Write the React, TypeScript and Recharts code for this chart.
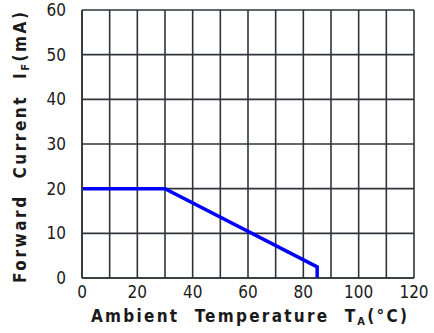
import { LineChart, Line, XAxis, YAxis, CartesianGrid, Label } from "recharts";

// derating curve: ambient temperature (°C) vs max forward current (mA)
const temps = [0, 30, 85, 85];
const currents = [20, 20, 2.5, 0];

const xTicks = [0, 10, 20, 30, 40, 50, 60, 70, 80, 90, 100, 110, 120];
const yTicks = [0, 10, 20, 30, 40, 50, 60];

const data = temps.map((t, i) => ({ t, i: currents[i] }));

const FONT = "'Liberation Sans Narrow', 'DejaVu Sans Condensed', 'Liberation Sans', sans-serif";
const GRID = "#30343a";

function XLabel() {
  return (
    <text
      x={91}
      y={322}
      fontFamily={FONT}
      fontSize={17}
      fontWeight="bold"
      fill="#1a1a1a"
      textLength={316}
      lengthAdjust="spacing"
    >
      {"Ambient\u00a0\u00a0Temperature\u00a0\u00a0T"}
      <tspan fontSize={11} dy={3}>A</tspan>
      <tspan dy={-3}>(°C)</tspan>
    </text>
  );
}

function YLabel() {
  return (
    <text
      x={0}
      y={0}
      transform="translate(26,283) rotate(-90)"
      fontFamily={FONT}
      fontSize={17}
      fontWeight="bold"
      fill="#1a1a1a"
      textLength={271}
      lengthAdjust="spacing"
    >
      {"Forward\u00a0\u00a0Current\u00a0\u00a0I"}
      <tspan fontSize={11} dy={3}>F</tspan>
      <tspan dy={-3}>(mA)</tspan>
    </text>
  );
}

export default function App() {
  return (
    <div style={{ position: "absolute", left: 0, top: 0, background: "#fff" }}>
      <LineChart width={434} height={333} data={data} margin={{ top: 10, right: 20, bottom: 25, left: 32 }}>
        <CartesianGrid stroke={GRID} strokeWidth={1.6} />
        <XAxis
          dataKey="t"
          type="number"
          domain={[0, 120]}
          ticks={xTicks}
          interval={0}
          height={30}
          tickLine={false}
          axisLine={{ stroke: GRID, strokeWidth: 1.6 }}
          tickFormatter={(v) => (v % 20 === 0 ? String(v) : "")}
          tick={{ fontFamily: FONT, fontSize: 17, fill: "#1a1a1a" }}
          tickMargin={2}
        >
          <Label content={<XLabel />} />
        </XAxis>
        <YAxis
          type="number"
          domain={[0, 60]}
          ticks={yTicks}
          interval={0}
          width={50}
          tickLine={false}
          axisLine={{ stroke: GRID, strokeWidth: 1.6 }}
          tick={{ fontFamily: FONT, fontSize: 17, fill: "#1a1a1a" }}
          tickMargin={10}
        >
          <Label content={<YLabel />} />
        </YAxis>
        <Line
          dataKey="i"
          type="linear"
          stroke="#0000ff"
          strokeWidth={3.5}
          dot={false}
          isAnimationActive={false}
        />
      </LineChart>
    </div>
  );
}
